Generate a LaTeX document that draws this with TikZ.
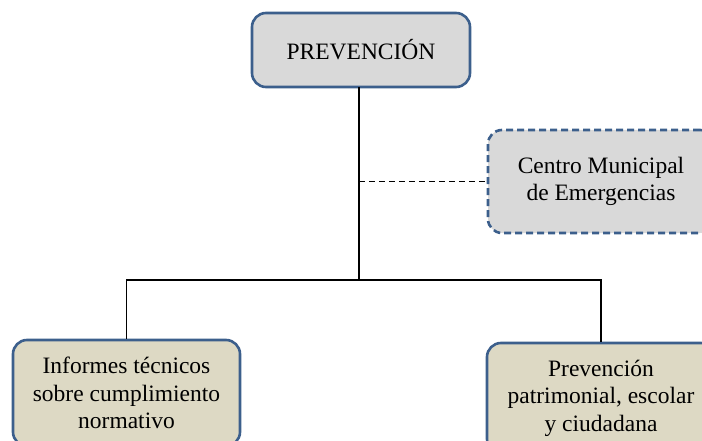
\documentclass[tikz,border=0pt]{standalone}
\usepackage{fontspec}
\setmainfont{Liberation Serif}
\definecolor{bordc}{HTML}{3C5F8C}
\definecolor{grayf}{HTML}{D9D9D9}
\definecolor{tanf}{HTML}{DDD9C4}
\begin{document}
\begin{tikzpicture}[x=1pt,y=1pt,
  box/.style={draw=bordc, line width=2.6pt, rounded corners=14pt, align=center,
    font=\fontsize{23.5}{27.5}\selectfont, inner sep=0pt},
  graybox/.style={box, fill=grayf},
  tanbox/.style={box, fill=tanf},
  conn/.style={line width=1.4pt, black}]
\useasboundingbox (0,0) rectangle (702,-441);
\clip (0,0) rectangle (702,-441);
\node[graybox, minimum width=218pt, minimum height=74pt] (top) at (361,-50) {PREVENCIÓN};
\node[graybox, dash pattern=on 7pt off 4pt, minimum width=226pt, minimum height=103pt] (centro) at (601,-181.5) {Centro Municipal\\de Emergencias};
\node[tanbox, minimum width=227pt, minimum height=106pt] (left) at (126.5,-393) {Informes técnicos\\sobre cumplimiento\\normativo};
\node[tanbox, minimum width=228pt, minimum height=110pt] (right) at (601,-398) {Prevención\\patrimonial, escolar\\y ciudadana};
\coordinate (hub) at (359,-280);
\coordinate (topout) at (359,-87);
\draw[conn] (topout) -- (hub);
\draw[conn, line width=1.7pt, dash pattern=on 6pt off 4pt] (topout |- centro.west) -- (centro.west);
\draw[conn] (left.north) |- (hub) -| (right.north);
\end{tikzpicture}
\end{document}
